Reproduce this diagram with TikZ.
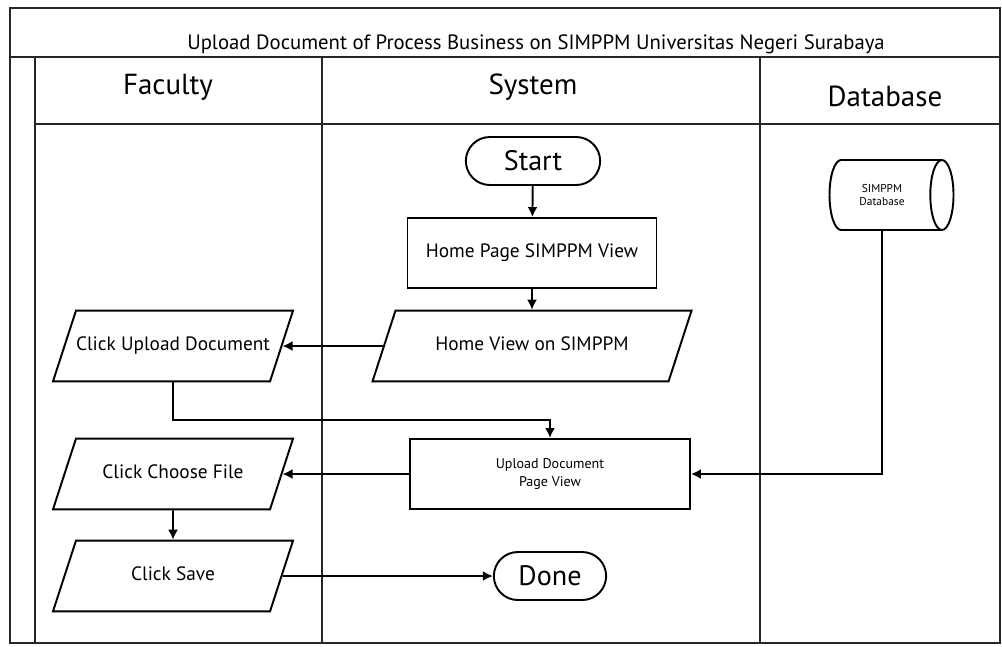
\documentclass[tikz,border=0pt]{standalone}
\usepackage{fontspec}
\setmainfont{PT Sans}
\usetikzlibrary{arrows.meta,positioning,shapes.geometric,shapes.misc}

\begin{document}
\begin{tikzpicture}[
  lane/.style={draw=black!85, line width=1pt},
  lanehead/.style={font=\fontsize{16.5}{18}\selectfont},
  proc/.style={draw, line width=1.1pt, minimum width=4.98cm, minimum height=1.4cm,
               font=\fontsize{11}{12}\selectfont, align=center},
  io/.style={draw, line width=1.1pt, trapezium, trapezium left angle=72,
             trapezium right angle=108, trapezium stretches body=true,
             minimum width=4.8cm, text height=8pt, text depth=3pt,
             inner xsep=0pt, inner ysep=14.6pt,
             font=\fontsize{11}{12}\selectfont, align=center},
  term/.style={draw, line width=1.1pt, rounded rectangle, minimum height=0.96cm,
               font=\fontsize{16}{18}\selectfont},
  store/.style={draw, line width=1.1pt, cylinder, shape aspect=0.7,
                minimum width=1.4cm, minimum height=2.48cm,
                font=\fontsize{6.5}{7.5}\selectfont, align=center},
  flow/.style={-{Latex[length=2mm,width=2mm]}, line width=1.1pt},
]
  \useasboundingbox (0,0) rectangle (20.04,-12.92);

  % swimlane frame
  \draw[lane] (0.2,-0.16) rectangle (20.0,-12.86);
  \draw[lane] (0.2,-1.14) -- (20.0,-1.14);
  \draw[lane] (0.7,-1.14) -- (0.7,-12.86);
  \draw[lane] (0.7,-2.48) -- (20.0,-2.48);
  \draw[lane] (6.44,-1.14) -- (6.44,-12.86);
  \draw[lane] (15.2,-1.14) -- (15.2,-12.86);

  \node[font=\fontsize{11.8}{13}\selectfont] (title) at (10.72,-0.88)
    {Upload Document of Process Business on SIMPPM Universitas Negeri Surabaya};
  \node[lanehead] (faculty) at (3.36,-1.74) {Faculty};
  \node[lanehead] (system) at (10.66,-1.74) {System};
  \node[lanehead] (database) at (17.7,-1.92) {Database};

  % flow nodes
  \node[term, minimum width=2.92cm] (start) at (10.66,-3.22) {Start};
  \node[proc] (homepage) at (10.64,-5.06) {Home Page SIMPPM View};
  \node[io, minimum width=6.38cm] (homeview) at (10.64,-6.92) {Home View on SIMPPM};
  \node[io] (uploadclick) at (3.46,-6.92) {Click Upload Document};
  \node[proc, minimum width=5.6cm, font=\fontsize{8}{10}\selectfont] (uploadpage)
    at (11.0,-9.48) {Upload Document\\Page View};
  \node[io] (choosefile) at (3.46,-9.48) {Click Choose File};
  \node[io] (save) at (3.46,-11.52) {Click Save};
  \node[term, minimum width=2.48cm] (done) at (11.0,-11.52) {Done};
  \node[store] (db) at (17.64,-3.9) {SIMPPM\\Database};

  % connectors
  \draw[flow] (start) -- (homepage);
  \draw[flow] (homepage) -- (homeview);
  \draw[flow] (homeview.west) -- (uploadclick.east);
  \draw[flow] (uploadclick.south) -- ++(0,-0.76) -| (uploadpage.north);
  \draw[flow] (uploadpage.west) -- (choosefile.east);
  \draw[flow] (db.south) |- (uploadpage.east);
  \draw[flow] (choosefile) -- (save);
  \draw[flow] (save.east) -- (done.west);
\end{tikzpicture}
\end{document}
